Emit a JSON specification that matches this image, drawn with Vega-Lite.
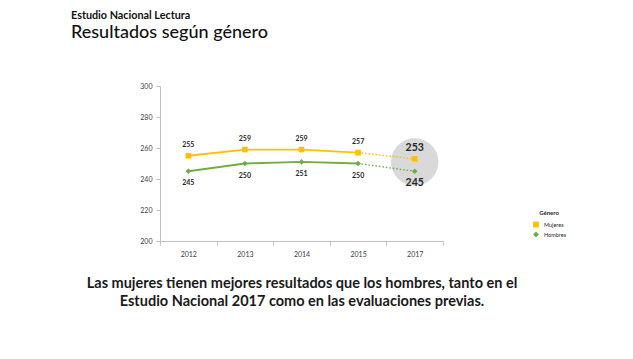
{
  "$schema": "https://vega.github.io/schema/vega-lite/v6.json",
  "width": 283,
  "height": 155,
  "autosize": {"type": "none"},
  "padding": {"left": 160, "top": 86, "right": 190, "bottom": 118},
  "background": "white",
  "config": {"view": {"stroke": null}, "font": "Lato"},
  "title": {
    "text": "Estudio Nacional Lectura",
    "subtitle": "Resultados según género",
    "anchor": "start",
    "frame": "group",
    "dx": -89,
    "offset": 40,
    "font": "Lato",
    "subtitleFont": "Lato",
    "fontSize": 10.8,
    "fontWeight": "bold",
    "color": "#111111",
    "subtitleFontSize": 18,
    "subtitleFontWeight": 500,
    "subtitleColor": "#111111",
    "subtitlePadding": 3
  },
  "datasets": {
    "resultados": [
      {"anio": 2012, "genero": "Mujeres", "valor": 255},
      {"anio": 2013, "genero": "Mujeres", "valor": 259},
      {"anio": 2014, "genero": "Mujeres", "valor": 259},
      {"anio": 2015, "genero": "Mujeres", "valor": 257},
      {"anio": 2017, "genero": "Mujeres", "valor": 253},
      {"anio": 2012, "genero": "Hombres", "valor": 245},
      {"anio": 2013, "genero": "Hombres", "valor": 250},
      {"anio": 2014, "genero": "Hombres", "valor": 251},
      {"anio": 2015, "genero": "Hombres", "valor": 250},
      {"anio": 2017, "genero": "Hombres", "valor": 245}
    ],
    "destacado": [{"anio": 2017, "valor": 251}]
  },
  "encoding": {
    "x": {
      "field": "anio",
      "type": "ordinal",
      "scale": {"type": "band", "paddingInner": 0, "paddingOuter": 0},
      "axis": {
        "tickBand": "extent",
        "labelAngle": 0,
        "labelFontSize": 7,
        "labelColor": "#404040",
        "labelPadding": 5,
        "domainColor": "#bfbfbf",
        "tickColor": "#bfbfbf",
        "tickSize": 4,
        "title": [
          "Las mujeres tienen mejores resultados que los hombres, tanto en el",
          "Estudio Nacional 2017 como en las evaluaciones previas."
        ],
        "titleFontSize": 14.5,
        "titleFontWeight": "bold",
        "titleColor": "#1a1a1a",
        "titleLineHeight": 18,
        "titlePadding": 19
      }
    },
    "y": {
      "field": "valor",
      "type": "quantitative",
      "scale": {"domain": [200, 300]},
      "axis": {
        "values": [200, 220, 240, 260, 280, 300],
        "grid": false,
        "title": null,
        "labelFontSize": 7,
        "labelColor": "#404040",
        "labelPadding": 4,
        "domainColor": "#bfbfbf",
        "tickColor": "#bfbfbf",
        "tickSize": 4
      }
    }
  },
  "layer": [
    {
      "data": {"name": "destacado"},
      "mark": {"type": "point", "shape": "circle", "filled": true, "size": 2250, "color": "#d9d9d9", "opacity": 1}
    },
    {
      "data": {"name": "resultados"},
      "transform": [{"filter": "datum.anio !== 2017"}],
      "mark": {"type": "line", "strokeWidth": 1.8},
      "encoding": {
        "stroke": {"field": "genero", "type": "nominal", "legend": null, "scale": {"range": ["#70AD47", "#FFC000"]}},
        "detail": {"field": "genero"}
      }
    },
    {
      "data": {"name": "resultados"},
      "transform": [{"filter": "datum.anio >= 2015"}],
      "mark": {"type": "line", "strokeWidth": 1.5, "strokeDash": [1.5, 2]},
      "encoding": {
        "stroke": {"field": "genero", "type": "nominal", "legend": null, "scale": {"range": ["#70AD47", "#FFC000"]}},
        "detail": {"field": "genero"}
      }
    },
    {
      "data": {"name": "resultados"},
      "mark": {"type": "point", "filled": true, "opacity": 1, "size": 32},
      "encoding": {
        "fill": {
          "field": "genero",
          "type": "nominal",
          "scale": {"domain": ["Mujeres", "Hombres"], "range": ["#FFC000", "#70AD47"]},
          "legend": {
            "title": "Género",
            "orient": "none",
            "legendX": 372,
            "legendY": 124,
            "padding": 0,
            "titleFontSize": 6,
            "titleFontWeight": "bold",
            "titleColor": "#262626",
            "titlePadding": 4,
            "titleAnchor": "middle",
            "labelFontSize": 5.5,
            "labelColor": "#262626",
            "symbolSize": 34,
            "clipHeight": 9,
            "rowPadding": 1,
            "labelOffset": 4
          }
        },
        "shape": {
          "field": "genero",
          "type": "nominal",
          "scale": {"domain": ["Mujeres", "Hombres"], "range": ["square", "diamond"]}
        }
      }
    },
    {
      "data": {"name": "resultados"},
      "transform": [{"filter": "datum.genero === 'Mujeres'"}],
      "mark": {"type": "text", "dy": -11, "fontWeight": "bold", "color": "#262626", "baseline": "middle"},
      "encoding": {
        "text": {"field": "valor", "type": "quantitative"},
        "size": {"condition": {"test": "datum.anio === 2017", "value": 10.5}, "value": 7}
      }
    },
    {
      "data": {"name": "resultados"},
      "transform": [{"filter": "datum.genero === 'Hombres'"}],
      "mark": {"type": "text", "dy": 12, "fontWeight": "bold", "color": "#262626", "baseline": "middle"},
      "encoding": {
        "text": {"field": "valor", "type": "quantitative"},
        "size": {"condition": {"test": "datum.anio === 2017", "value": 10.5}, "value": 7}
      }
    }
  ]
}
